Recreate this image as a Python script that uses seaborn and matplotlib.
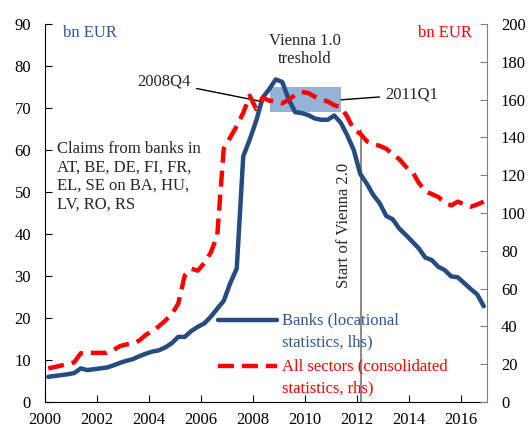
import numpy as np
import pandas as pd
import seaborn as sns
import matplotlib.pyplot as plt
from matplotlib.patches import Rectangle
from matplotlib.legend_handler import HandlerLine2D

# quarterly data, 2000Q1 - 2016Q4
years = list(range(2000, 2017))
quarters = [f"{y}Q{q}" for y in years for q in range(1, 5)]

# Banks (locational statistics), bn EUR, lhs
banks = [6.0, 6.2, 6.4, 6.6,
         6.9, 8.0, 7.6, 7.8,
         8.0, 8.2, 8.7, 9.3,
         9.8, 10.2, 10.9, 11.5,
         12.0, 12.3, 13.0, 14.0,
         15.5, 15.5, 16.9, 17.9,
         18.7, 20.3, 22.2, 24.1,
         28.3, 31.8, 58.5, 62.5,
         67.0, 72.5, 74.5, 76.8,
         76.2, 72.0, 69.0, 68.8,
         68.3, 67.5, 67.2, 67.2,
         68.2, 66.5, 63.5, 60.0,
         54.3, 52.0, 49.3, 47.3,
         44.3, 43.5, 41.3, 39.8,
         38.2, 36.6, 34.4, 33.8,
         32.2, 31.4, 29.9, 29.7,
         28.3, 26.9, 25.6, 22.8]

# All sectors (consolidated statistics), bn EUR, rhs
all_sectors = [17.8, 18.5, 19.3, 20.0,
               21.0, 25.8, 25.8, 26.0,
               26.0, 26.0, 27.5, 29.5,
               30.5, 31.0, 32.5, 35.5,
               37.5, 40.0, 43.0, 46.5,
               52.0, 67.0, 70.5, 69.5,
               73.5, 79.0, 88.0, 134.0,
               140.0, 146.0, 153.0, 162.0,
               155.0, 161.0, 159.5, 159.0,
               158.0, 160.0, 162.5, 164.0,
               163.5, 161.5, 160.0, 159.0,
               157.0, 156.0, 151.0, 144.0,
               142.0, 138.0, 136.5, 135.5,
               134.0, 131.0, 128.5, 124.5,
               122.0, 116.0, 111.5, 110.0,
               108.5, 105.5, 104.0, 106.0,
               104.5, 103.3, 104.5, 106.0]

x_ticks = list(range(2000, 2017, 2))
lhs_ticks = list(range(0, 91, 10))
rhs_ticks = list(range(0, 201, 20))

BLUE = "#254B80"
RED = "#FF0000"
GREY = "#808080"


class TopLine(HandlerLine2D):
    # puts the legend line level with the first text line
    def create_artists(self, legend, orig_handle, xdescent, ydescent, width, height, fontsize, trans):
        return super().create_artists(legend, orig_handle, xdescent, ydescent, width,
                                      height + 7.5, fontsize, trans)


df = pd.DataFrame({"quarter": quarters, "banks": banks, "all_sectors": all_sectors})
# mid-quarter position in decimal years
df["t"] = df["quarter"].str[:4].astype(int) + (df["quarter"].str[-1].astype(int) - 0.5) / 4

sns.set_style("ticks")
plt.rcParams["font.family"] = ["Liberation Serif", "DejaVu Serif"]
plt.rcParams["font.size"] = 12

fig = plt.figure(figsize=(5.32, 4.30), dpi=100)
ax = fig.add_axes([45 / 532, 28 / 430, 442 / 532, 378 / 430])
ax2 = ax.twinx()

# Vienna 1.0 threshold box
ax.add_patch(Rectangle((2008.65, 69.1), 2.75, 6.0, facecolor="#95B3D7", edgecolor="none", zorder=0))

sns.lineplot(data=df, x="t", y="banks", ax=ax, color=BLUE, lw=3.2, zorder=3,
             label="Banks (locational\nstatistics, lhs)", legend=False)
sns.lineplot(data=df, x="t", y="all_sectors", ax=ax2, color=RED, lw=3.2,
             label="All sectors (consolidated\nstatistics, rhs)", legend=False)
ax2.lines[0].set_dashes([3.6, 1.8])

ax.set_xlim(2000, 2017)
ax.set_ylim(0, 90)
ax2.set_ylim(0, 200)
ax.set_xticks(x_ticks)
ax.set_yticks(lhs_ticks)
ax2.set_yticks(rhs_ticks)
ax.set_xlabel("")
ax.set_ylabel("")
ax2.set_ylabel("")

for a in (ax, ax2):
    a.spines["top"].set_visible(False)
ax.spines["right"].set_visible(False)
ax2.spines["left"].set_visible(False)
ax2.spines["bottom"].set_visible(False)
ax2.spines["right"].set_color(GREY)
ax.spines["left"].set_color("black")
ax.spines["bottom"].set_color("black")

ax.tick_params(axis="y", direction="in", length=5, pad=10, labelsize=12, colors="black")
ax.tick_params(axis="x", direction="in", length=5, pad=7, labelsize=12, colors="black")
ax2.tick_params(axis="y", direction="in", length=5, pad=10, labelsize=12, color=GREY, labelcolor="black")

# start of Vienna 2.0
ax.plot([2012.14, 2012.14], [0, 64.8], color=GREY, lw=1.3, zorder=1)
ax.text(2011.5, 42, "Start of Vienna 2.0", rotation=90, ha="center", va="center", fontsize=12)

ax.text(2010.0, 83.8, "Vienna 1.0\ntreshold", ha="center", va="center", fontsize=12)
ax.annotate("2008Q4", xy=(2008.45, 71.4), xytext=(2005.6, 76.2), ha="right", va="center",
            fontsize=12, arrowprops=dict(arrowstyle="-", color="black", lw=1))
ax.annotate("2011Q1", xy=(2011.28, 71.9), xytext=(2013.1, 73.2), ha="left", va="center",
            fontsize=12, arrowprops=dict(arrowstyle="-", color="black", lw=1))

ax.text(2000.46, 53.6, "Claims from banks in\nAT, BE, DE, FI, FR,\nEL, SE on BA, HU,\nLV, RO, RS",
        ha="left", va="center", fontsize=12, linespacing=1.2)
ax.text(2000.7, 87.9, "bn EUR", color="#2F5597", ha="left", va="center", fontsize=12)
ax.text(2016.42, 87.9, "bn EUR", color=RED, ha="right", va="center", fontsize=12)

handles = ax.lines[:1] + ax2.lines[:1]
leg = ax2.legend(handles=handles, labels=[h.get_label() for h in handles],
                 loc="upper left", bbox_to_anchor=(218 / 532, 1 - 312 / 430),
                 bbox_transform=fig.transFigure, frameon=False, borderpad=0,
                 borderaxespad=0, handlelength=3.55, handletextpad=0.3,
                 handleheight=2.9, labelspacing=0.48,
                 handler_map={h: TopLine() for h in handles},
                 fontsize=12, labelcolor=["#2F5597", RED])
for t in leg.get_texts():
    t.set_linespacing(1.5)

fig.savefig("out.png", dpi=100)
